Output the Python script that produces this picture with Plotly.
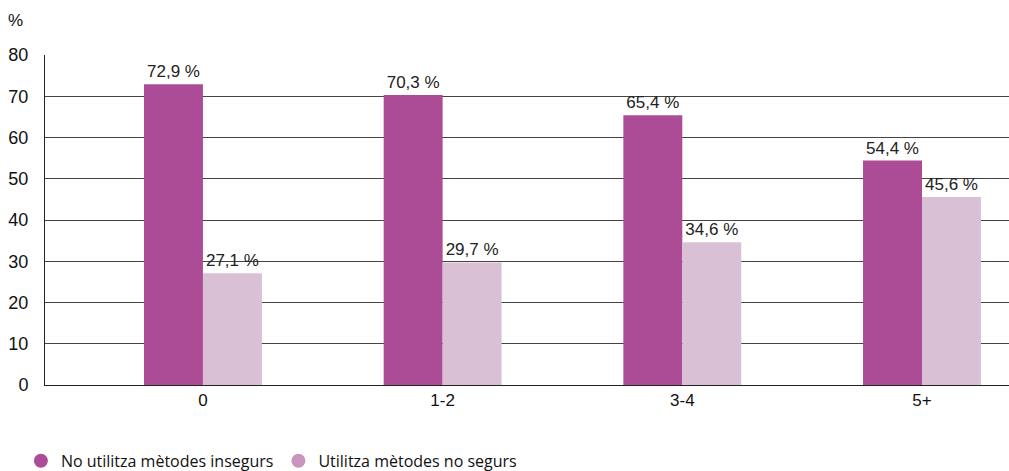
import plotly.graph_objects as go

categories = ["0", "1-2", "3-4", "5+"]
no_insegurs = [72.9, 70.3, 65.4, 54.4]
no_segurs = [27.1, 29.7, 34.6, 45.6]
series_names = ["No utilitza mètodes insegurs", "Utilitza mètodes no segurs"]
y_ticks = [0, 10, 20, 30, 40, 50, 60, 70, 80]

dark = "#ad4c96"
light = "#dac0d4"
light_legend = "#c996bb"


def pct(v):
    return f"{v:.1f} %".replace(".", ",")


fig = go.Figure()

# Bars (legend drawn separately with round markers)
for vals, col in [(no_insegurs, dark), (no_segurs, light)]:
    fig.add_trace(go.Bar(
        x=categories, y=vals, marker_color=col, marker_line_width=0,
        text=[pct(v) for v in vals], textposition="outside",
        textfont=dict(family="Liberation Sans, Arial", size=17, color="#222"),
        cliponaxis=False, showlegend=False,
    ))

for name, col in zip(series_names, [dark, light_legend]):
    fig.add_trace(go.Scatter(
        x=[None], y=[None], mode="markers", name=name,
        marker=dict(symbol="circle", size=14, color=col),
    ))

fig.update_layout(
    width=1009, height=471,
    margin=dict(l=45, r=0, t=55, b=86, autoexpand=False),
    plot_bgcolor="white", paper_bgcolor="white",
    barmode="group", bargap=0.508, bargroupgap=0,
    font=dict(family="Liberation Sans, Arial", size=17, color="#111"),
    legend=dict(orientation="h", x=-0.025, xanchor="left", y=-0.23, yanchor="middle",
                font=dict(family="Open Sans, Noto Sans", size=16, color="#111"),
                itemwidth=30, tracegroupgap=0),
    annotations=[dict(text="%", x=-0.031, xref="paper", y=1.106, yref="paper",
                      yanchor="middle", xanchor="center", showarrow=False,
                      font=dict(size=17))],
)

# categories are not centred in the plot area in the original, so set the range by hand
fig.update_xaxes(range=[-0.659, 3.363], showgrid=False, showline=True, linecolor="#222",
                 linewidth=1, ticks="", tickfont=dict(size=17), automargin=False)
fig.update_yaxes(range=[0, 80], tickvals=y_ticks, showgrid=True, gridcolor="#444",
                 gridwidth=1, showline=True, linecolor="#222", linewidth=1,
                 zeroline=False, ticks="", ticklabelstandoff=12, tickfont=dict(size=18),
                 automargin=False)

# drop the default body margin so the figure sits at the page origin
fig.write_html("out.html", config={"displayModeBar": False},
               post_script="document.body.style.margin='0';")
